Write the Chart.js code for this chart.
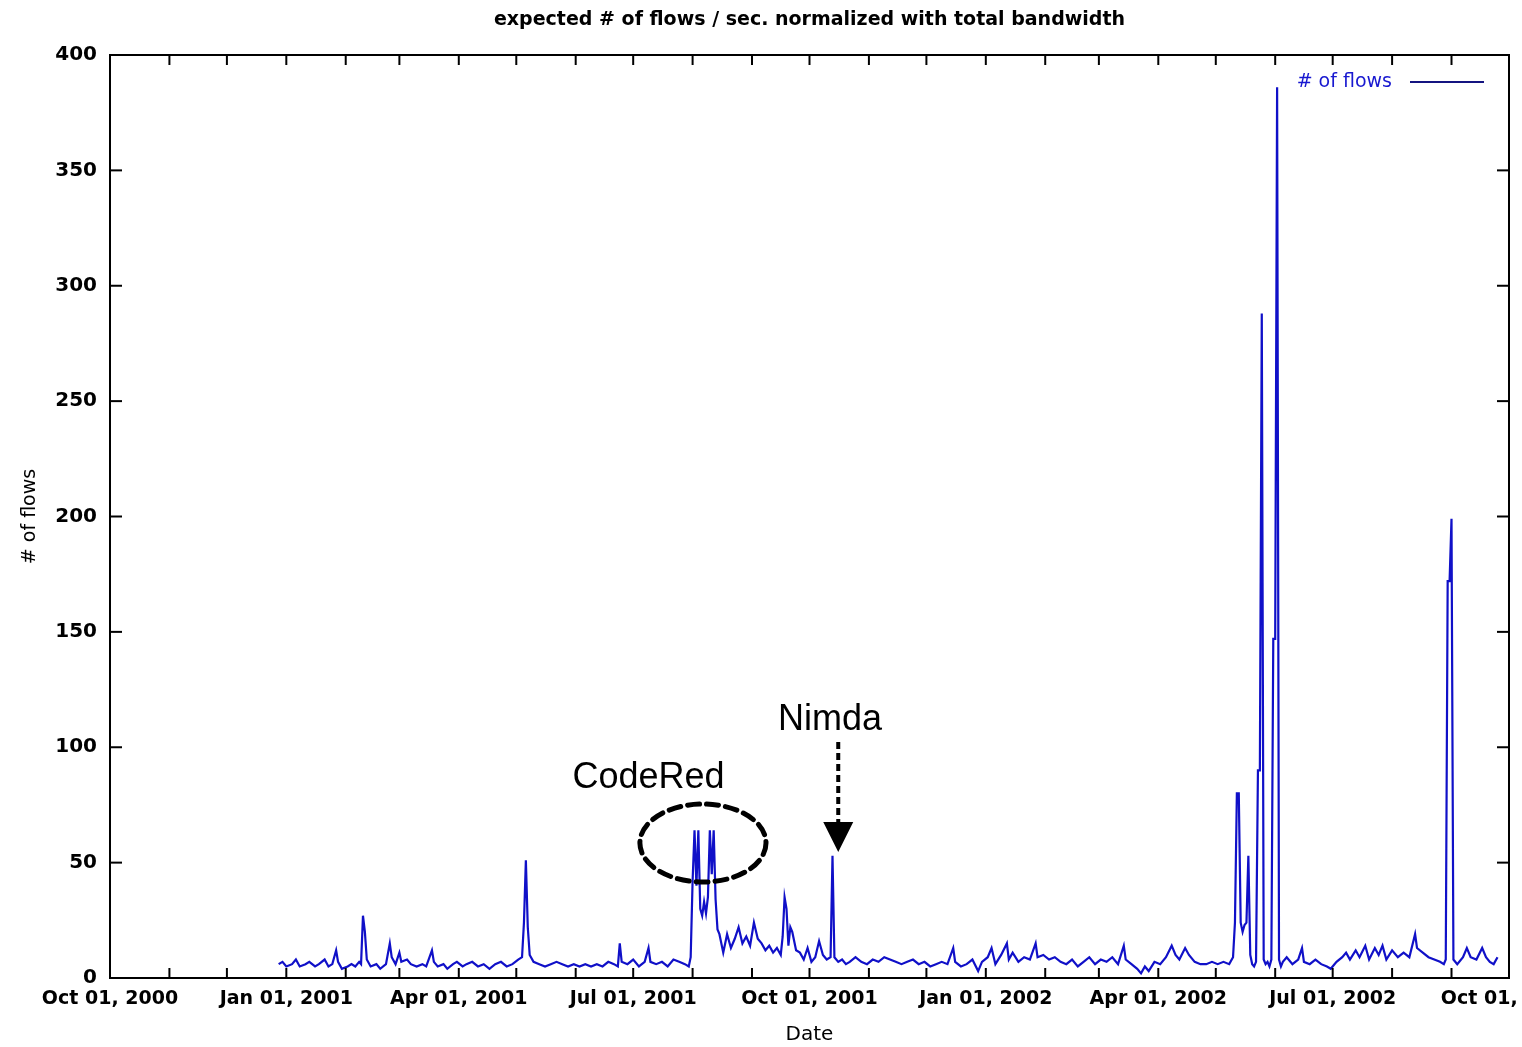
<!DOCTYPE html>
<html>
<head>
<meta charset="utf-8">
<script src="https://cdn.jsdelivr.net/npm/chart.js@4.4.1/dist/chart.umd.min.js"></script>
<style>
  html, body { margin: 0; padding: 0; background: #fff; }
  canvas { display: block; }
</style>
</head>
<body>
<canvas id="flows-chart" width="1522" height="1047"></canvas>
<script>
// days counted from Oct 01, 2000
let days = [
  88, 90, 92, 95, 97, 99, 102, 104, 107, 109, 112, 114, 116, 118, 119, 121, 124, 126, 128, 130, 131, 132, 133, 134, 136, 139, 141, 144, 146, 147, 149, 151, 152, 155, 157, 160, 163, 165, 168, 169, 171, 174, 176, 179, 181, 184,
  186, 189, 192, 195, 198, 201, 204, 207, 210, 213, 215, 216, 217, 218, 219, 221, 224, 227, 230, 233, 236, 239, 242, 245, 248, 251, 254, 257, 260, 263, 265, 266, 267, 270, 273, 276, 279, 281, 282, 285, 288, 291, 294, 297, 300, 302,
  303, 304, 305, 306, 307, 308, 309, 310, 311, 312, 313, 314, 315, 316, 317, 318,
  320, 322, 324, 326, 328, 330, 332, 334, 336, 338, 340, 342, 344, 346, 348, 350, 351, 352, 353, 354, 355, 356, 358, 360, 362, 364, 366, 368, 370, 372, 374, 376, 377, 378, 380, 382, 384,
  386, 389, 392, 395, 398, 401, 404, 407, 410, 413, 416, 419, 422, 425, 428, 431, 434, 437, 440, 441, 444, 447, 450, 453, 455, 458, 460, 462, 465, 468, 469, 471, 474, 477, 480, 483, 484, 487, 490, 493, 496, 499, 502, 505, 508, 511, 514, 517, 520, 523, 526, 529, 530, 533, 536, 538, 540, 542, 545, 548, 551, 554, 556, 558, 561, 563, 566, 569, 572, 575, 578, 581, 584, 586,
  587, 588, 589, 590, 591, 592, 593, 594, 595, 596, 597, 598, 599, 600, 601, 602, 603, 604, 605, 606, 607, 608, 609, 610, 611,
  612, 614, 617, 620, 622, 623, 626, 629, 632, 635, 637, 640, 643, 645, 647, 650, 652, 655, 657, 660, 662, 664, 666, 669, 672, 675, 678, 681, 682, 685, 688, 691, 694, 696, 697, 698, 699, 700, 701, 703, 706, 708, 710, 713, 716, 718, 720, 722, 724
];
let flows = [
  6, 7, 5, 6, 8, 5, 6, 7, 5, 6, 8, 5, 6, 12, 7, 4, 5, 6, 5, 7, 6, 27, 20, 8, 5, 6, 4, 6, 15, 9, 6, 11, 7, 8, 6, 5, 6, 5, 12, 7, 5, 6, 4, 6, 7, 5,
  6, 7, 5, 6, 4, 6, 7, 5, 6, 8, 9, 24, 51, 22, 10, 7, 6, 5, 6, 7, 6, 5, 6, 5, 6, 5, 6, 5, 7, 6, 5, 15, 7, 6, 8, 5, 7, 13, 7, 6, 7, 5, 8, 7, 6, 5,
  9, 42, 64, 40, 64, 30, 27, 33, 28, 35, 64, 45, 64, 34, 21, 19,
  11, 19, 13, 17, 22, 15, 18, 14, 24, 17, 15, 12, 14, 11, 13, 10, 18, 35, 30, 14, 22, 20, 12, 11, 8, 13, 7, 9, 16, 10, 8, 9, 53, 9, 7, 8, 6,
  7, 9, 7, 6, 8, 7, 9, 8, 7, 6, 7, 8, 6, 7, 5, 6, 7, 6, 13, 7, 5, 6, 8, 3, 7, 9, 13, 6, 10, 15, 8, 11, 7, 9, 8, 15, 9, 10, 8, 9, 7, 6, 8, 5, 7, 9, 6, 8, 7, 9, 6, 14, 8, 6, 4, 2, 5, 3, 7, 6, 9, 14, 10, 8, 13, 10, 7, 6, 6, 7, 6, 7, 6, 9,
  24, 80, 80, 24, 20, 23, 24, 53, 10, 6, 5, 7, 90, 90, 288, 8, 6, 7, 5, 8, 147, 147, 386, 8, 5,
  7, 9, 6, 8, 13, 7, 6, 8, 6, 5, 4, 7, 9, 11, 8, 12, 9, 14, 8, 13, 10, 14, 8, 12, 9, 11, 9, 19, 13, 11, 9, 8, 7, 6, 8, 172, 172, 199, 8, 6, 9, 13, 9, 8, 13, 9, 7, 6, 9
];

let xTickDays = [0, 92, 182, 273, 365, 457, 547, 638, 730];
let xTickLabels = ["Oct 01, 2000", "Jan 01, 2001", "Apr 01, 2001", "Jul 01, 2001", "Oct 01, 2001",
                   "Jan 01, 2002", "Apr 01, 2002", "Jul 01, 2002", "Oct 01, 2002"];
let yTicks = [0, 50, 100, 150, 200, 250, 300, 350, 400];

const FONT = '"DejaVu Sans", sans-serif';
const LINE = '#1010c8';

// start of every month for the small ticks
let monthDays = [];
for (let m = 0; m <= 24; m++) {
  let t = Date.UTC(2000, 9 + m, 1);
  monthDays.push(Math.round((t - Date.UTC(2000, 9, 1)) / 86400000));
}

function seg(ctx, x1, y1, x2, y2) {
  ctx.beginPath();
  ctx.moveTo(x1, y1);
  ctx.lineTo(x2, y2);
  ctx.stroke();
}

const frame = {
  id: 'frame',
  afterDraw(chart) {
    const ctx = chart.ctx, a = chart.chartArea;
    const x = chart.scales.x, y = chart.scales.y;
    ctx.save();
    ctx.strokeStyle = '#000';
    ctx.lineWidth = 2;
    ctx.strokeRect(a.left, a.top, a.right - a.left, a.bottom - a.top);
    yTicks.forEach(v => {
      const py = y.getPixelForValue(v);
      seg(ctx, a.left, py, a.left + 12, py);
      seg(ctx, a.right - 12, py, a.right, py);
    });
    monthDays.forEach(d => {
      const px = x.getPixelForValue(d);
      seg(ctx, px, a.bottom, px, a.bottom - 10);
      seg(ctx, px, a.top, px, a.top + 10);
    });

    // title
    ctx.fillStyle = '#000';
    ctx.font = 'bold 19px ' + FONT;
    ctx.textAlign = 'center';
    ctx.textBaseline = 'middle';
    ctx.fillText('expected # of flows / sec. normalized with total bandwidth', (a.left + a.right) / 2, 20);

    // legend
    ctx.font = '19px ' + FONT;
    ctx.fillStyle = '#1818d0';
    ctx.textAlign = 'right';
    ctx.fillText('# of flows', 1392, 82);
    ctx.strokeStyle = '#141480';
    ctx.lineWidth = 2;
    seg(ctx, 1410, 82, 1484, 82);

    // CodeRed annotation
    ctx.fillStyle = '#000';
    ctx.strokeStyle = '#000';
    ctx.font = '36px "Liberation Sans", Arial, sans-serif';
    ctx.textAlign = 'center';
    ctx.fillText('CodeRed', x.getPixelForValue(281), y.getPixelForValue(86.7));
    const cx = x.getPixelForValue(309.4), cy = y.getPixelForValue(58.5);
    const rx = x.getPixelForValue(309.4 + 32.9) - cx, ry = cy - y.getPixelForValue(58.5 + 16.9);
    ctx.lineWidth = 5;
    ctx.lineCap = 'round';
    ctx.setLineDash([12, 7]);
    ctx.beginPath();
    ctx.ellipse(cx, cy, rx, ry, 0, 0, Math.PI * 2);
    ctx.stroke();

    // Nimda annotation
    ctx.fillText('Nimda', x.getPixelForValue(375.7), y.getPixelForValue(111.8));
    const ax = x.getPixelForValue(380);
    const aTop = y.getPixelForValue(102.3), aBase = y.getPixelForValue(67.6), aTip = y.getPixelForValue(54.6);
    ctx.lineWidth = 4;
    ctx.lineCap = 'butt';
    ctx.setLineDash([7, 4]);
    seg(ctx, ax, aTop, ax, aBase);
    ctx.setLineDash([]);
    ctx.beginPath();
    ctx.moveTo(ax - 15, aBase);
    ctx.lineTo(ax + 15, aBase);
    ctx.lineTo(ax, aTip);
    ctx.closePath();
    ctx.fill();
    ctx.restore();
  }
};

let ctx = document.getElementById('flows-chart').getContext('2d');
let flowChart = new Chart(ctx, {
  type: 'line',
  data: {
    datasets: [{
      label: '# of flows',
      data: days.map((d, i) => ({ x: d, y: flows[i] })),
      borderColor: LINE,
      borderWidth: 2.2,
      pointRadius: 0,
      fill: false,
      tension: 0
    }]
  },
  options: {
    responsive: false,
    animation: false,
    layout: { padding: { top: 55, right: 13, left: 0, bottom: 0 } },
    plugins: {
      legend: { display: false },
      title: { display: false },
      tooltip: { enabled: false }
    },
    scales: {
      x: {
        type: 'linear',
        min: 0,
        max: 730,
        grid: { display: false, drawTicks: false },
        border: { display: false },
        afterBuildTicks: s => { s.ticks = xTickDays.map(v => ({ value: v })); },
        afterFit: s => { s.height = 69; s.paddingLeft = 0; s.paddingRight = 0; },
        ticks: {
          autoSkip: false,
          maxRotation: 0,
          padding: 10,
          color: '#000',
          font: { family: FONT, size: 19, weight: 'bold' },
          callback: (v, i) => xTickLabels[i]
        },
        title: {
          display: true,
          text: 'Date',
          color: '#000',
          padding: { top: 0, bottom: 0 },
          font: { family: FONT, size: 20 }
        }
      },
      y: {
        min: 0,
        max: 400,
        grid: { display: false, drawTicks: false },
        border: { display: false },
        afterBuildTicks: s => { s.ticks = yTicks.map(v => ({ value: v })); },
        afterFit: s => { s.width = 110; },
        ticks: {
          padding: 13,
          color: '#000',
          font: { family: FONT, size: 20, weight: 'bold' }
        },
        title: {
          display: true,
          text: '# of flows',
          color: '#000',
          padding: { top: 19, bottom: 0 },
          font: { family: FONT, size: 19 }
        }
      }
    }
  },
  plugins: [frame]
});
</script>
</body>
</html>
